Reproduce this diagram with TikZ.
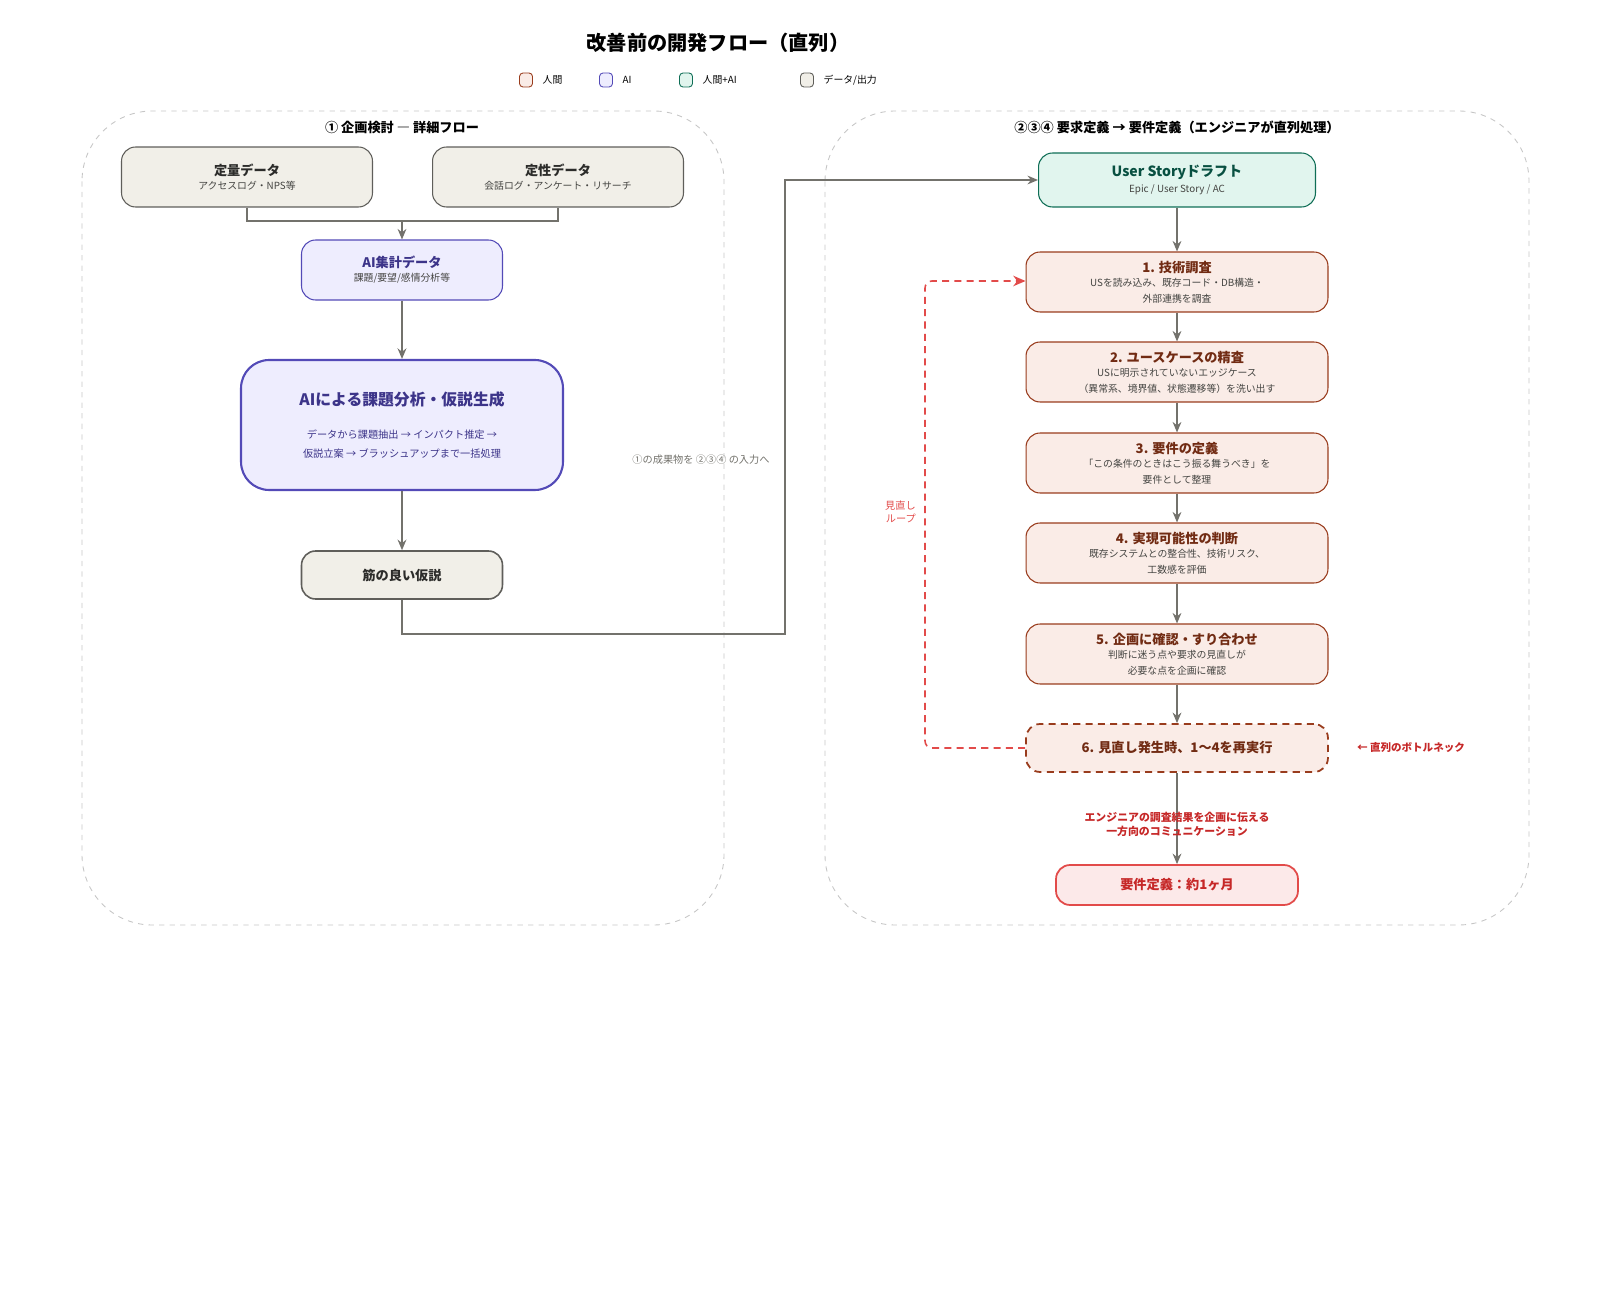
\documentclass[tikz,border=0pt]{standalone}
\usepackage{fontspec}
\setmainfont{Noto Sans CJK JP}
\usetikzlibrary{arrows.meta}
\definecolor{humfill}{HTML}{FAECE7}
\definecolor{humline}{HTML}{993C1D}
\definecolor{humtext}{HTML}{712B13}
\definecolor{aifill}{HTML}{EEEDFE}
\definecolor{ailine}{HTML}{534AB7}
\definecolor{aitext}{HTML}{3C3489}
\definecolor{mixfill}{HTML}{E1F5EE}
\definecolor{mixline}{HTML}{0F6E56}
\definecolor{mixtext}{HTML}{085041}
\definecolor{datfill}{HTML}{F1EFE8}
\definecolor{datline}{HTML}{5F5E5A}
\definecolor{dattext}{HTML}{2C2C2A}
\definecolor{subtext}{HTML}{444441}
\definecolor{alert}{HTML}{E24B4A}
\definecolor{alerttext}{HTML}{C62828}
\definecolor{flow}{HTML}{73726C}
\tikzset{
  box/.style={draw, rounded corners=8pt, line width=0.6pt, align=center, inner sep=0pt},
  human/.style={box, fill=humfill, draw=humline, text=humtext, minimum width=6.04cm, minimum height=1.2cm},
  ai/.style={box, fill=aifill, draw=ailine, text=aitext},
  mix/.style={box, fill=mixfill, draw=mixline, text=mixtext},
  data/.style={box, fill=datfill, draw=datline, text=dattext},
  panel/.style={draw=gray!45, dashed, rounded corners=40pt, line width=0.5pt},
  legend/.style={draw, rounded corners=2pt, minimum width=0.26cm, minimum height=0.28cm, inner sep=0pt, line width=0.5pt},
  flowline/.style={draw=flow, line width=0.8pt, -{Stealth[length=6pt,width=5pt]}},
  loopline/.style={draw=alert, line width=0.9pt, dash pattern=on 4pt off 3pt, -{Stealth[length=7pt,width=6pt]}},
}
\newcommand{\hdf}{\fontsize{7.5}{9}\selectfont\bfseries}
\newcommand{\subf}{\fontsize{5.6}{7}\selectfont\mdseries\color{subtext}}
\begin{document}
\begin{tikzpicture}[x=0.02cm, y=-0.02cm]
    \useasboundingbox (0,0) rectangle (1600,1300);

    % Title and legend
    \node[font=\fontsize{11.5}{13}\selectfont\bfseries] (title) at (718,43) {改善前の開発フロー（直列）};
    \node[legend, fill=humfill, draw=humline] (lgh) at (526,80) {};
    \node[right=2pt, font=\fontsize{5.6}{7}\selectfont] at (lgh.east) {人間};
    \node[legend, fill=aifill, draw=ailine] (lga) at (606,80) {};
    \node[right=2pt, font=\fontsize{5.6}{7}\selectfont] at (lga.east) {AI};
    \node[legend, fill=mixfill, draw=mixline] (lgm) at (686,80) {};
    \node[right=2pt, font=\fontsize{5.6}{7}\selectfont] at (lgm.east) {人間+AI};
    \node[legend, fill=datfill, draw=datline] (lgd) at (807,80) {};
    \node[right=2pt, font=\fontsize{5.6}{7}\selectfont] at (lgd.east) {データ/出力};

    % Panels
    \draw[panel] (82,111) rectangle (724,925);
    \draw[panel] (825,111) rectangle (1529,925);
    \node[font=\hdf] (lefthead) at (402,127) {① 企画検討 ― 詳細フロー};
    \node[font=\hdf] (righthead) at (1177,127) {②③④ 要求定義 → 要件定義（エンジニアが直列処理）};

    % Left: planning
    \node[data, minimum width=5.02cm, minimum height=1.2cm, font=\hdf] (quant) at (247,177) {定量データ\\[-1pt]\subf アクセスログ・NPS等};
    \node[data, minimum width=5.02cm, minimum height=1.2cm, font=\hdf] (qual) at (558,177) {定性データ\\[-1pt]\subf 会話ログ・アンケート・リサーチ};
    \node[ai, minimum width=4.02cm, minimum height=1.2cm, font=\hdf] (aggr) at (402,270) {AI集計データ\\[-1pt]\subf 課題/要望/感情分析等};
    \node[ai, rounded corners=16pt, line width=1.2pt, minimum width=6.44cm, minimum height=2.6cm,
          font=\fontsize{9}{11}\selectfont\bfseries] (analysis) at (402,425)
        {AIによる課題分析・仮説生成\\[8pt]\fontsize{5.8}{8}\selectfont\mdseries データから課題抽出 → インパクト推定 →\\\fontsize{5.8}{8}\selectfont\mdseries 仮説立案 → ブラッシュアップまで一括処理};
    \node[data, line width=0.9pt, minimum width=4.02cm, minimum height=0.96cm, font=\hdf] (hypo) at (402,575) {筋の良い仮説};

    \coordinate (merge) at (402,221);
    \draw[draw=flow, line width=0.8pt] (quant.south) |- (merge) -| (qual.south);
    \draw[flowline] (merge) -- (aggr.north);
    \draw[flowline, line width=1pt] (aggr) -- (analysis);
    \draw[flowline, line width=1pt] (analysis) -- (hypo);

    % Hand-over to the right panel
    \node[mix, minimum width=5.54cm, minimum height=1.08cm, font=\fontsize{8}{10}\selectfont\bfseries] (draft) at (1177,180) {User Storyドラフト\\[-1pt]\subf Epic / User Story / AC};
    \coordinate (turn1) at (402,634);
    \coordinate (turn2) at (785,634);
    \coordinate (turn3) at (785,180);
    \draw[flowline] (hypo.south) -- (turn1) -- (turn2) -- (turn3) -- (draft.west);
    \node[text=flow, font=\fontsize{5.8}{7}\selectfont\itshape] (handlabel) at (701,460) {①の成果物を ②③④ の入力へ};

    % Right: serial steps
    \node[human, font=\hdf] (step1) at (1177,282) {1. 技術調査\\[-1pt]\subf USを読み込み、既存コード・DB構造・\\\subf 外部連携を調査};
    \node[human, font=\hdf] (step2) at (1177,372) {2. ユースケースの精査\\[-1pt]\subf USに明示されていないエッジケース\\\subf （異常系、境界値、状態遷移等）を洗い出す};
    \node[human, font=\hdf] (step3) at (1177,463) {3. 要件の定義\\[-1pt]\subf 「この条件のときはこう振る舞うべき」を\\\subf 要件として整理};
    \node[human, font=\hdf] (step4) at (1177,553) {4. 実現可能性の判断\\[-1pt]\subf 既存システムとの整合性、技術リスク、\\\subf 工数感を評価};
    \node[human, font=\hdf] (step5) at (1177,654) {5. 企画に確認・すり合わせ\\[-1pt]\subf 判断に迷う点や要求の見直しが\\\subf 必要な点を企画に確認};
    \node[human, line width=1pt, dash pattern=on 4pt off 3pt, minimum height=0.96cm, font=\hdf] (step6) at (1177,748) {6. 見直し発生時、1〜4を再実行};
    \node[box, fill=alert!12, draw=alert, text=alerttext, line width=1pt, minimum width=4.84cm, minimum height=0.8cm, font=\hdf] (result) at (1177,885) {要件定義：約1ヶ月};

    \draw[flowline] (draft) -- (step1);
    \draw[flowline] (step1) -- (step2);
    \draw[flowline] (step2) -- (step3);
    \draw[flowline] (step3) -- (step4);
    \draw[flowline] (step4) -- (step5);
    \draw[flowline] (step5) -- (step6);
    \draw[flowline] (step6) -- (result);

    % Review loop
    \coordinate (loopb) at (925,748);
    \coordinate (loopt) at (925,281);
    \draw[loopline, rounded corners=4pt] (step6.west) -- (loopb) -- (loopt) -- (step1.west |- loopt);
    \node[left, align=right, text=alert, font=\fontsize{5.8}{7}\selectfont] (looplabel) at (922,512) {見直し\\ループ};
    \node[text=alerttext, font=\fontsize{6}{7}\selectfont\bfseries] (neck) at (1411,748) {← 直列のボトルネック};
    \node[align=center, text=alerttext, font=\fontsize{6.2}{8}\selectfont\bfseries] (comm) at (1177,824) {エンジニアの調査結果を企画に伝える\\一方向のコミュニケーション};
\end{tikzpicture}
\end{document}
